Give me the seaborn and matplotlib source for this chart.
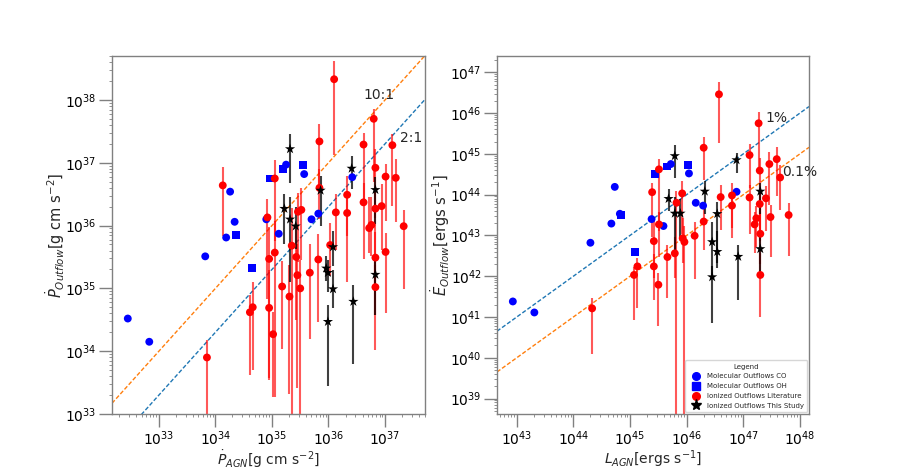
import numpy as np
import pandas as pd
import matplotlib
matplotlib.use("Agg")
import matplotlib.pyplot as plt
import seaborn as sns
from matplotlib.lines import Line2D

sns.set_style("white")
plt.rcParams['font.family'] = ['DejaVu Sans']

# ---------------- Left panel data (log10 values) ----------------
co_pagn = [32.45, 32.83, 33.82, 34.19, 34.26, 34.34, 34.90, 35.12, 35.25, 35.57, 35.70, 35.82, 36.42]
co_pout = [34.52, 34.15, 35.51, 35.81, 36.54, 36.06, 36.10, 35.87, 36.97, 36.82, 36.10, 36.19, 36.77]
oh_pagn = [34.36, 34.65, 34.97, 35.19, 35.55]
oh_pout = [35.85, 35.32, 36.75, 36.90, 36.96]
lit_pagn = [34.13, 33.85, 34.61, 34.66, 34.92, 34.95, 34.95, 35.02, 35.05, 35.05, 35.18, 35.31, 35.35, 35.43,
            35.45, 35.46, 35.50, 35.52, 35.67, 35.82, 35.84, 35.84, 36.03, 36.10, 36.13, 36.33, 36.33, 36.62,
            36.62, 36.72, 36.76, 36.80, 36.83, 36.83, 36.83, 36.83, 36.94, 37.01, 37.01, 37.13, 37.19, 37.33]
lit_pout = [36.64, 33.90, 34.62, 34.70, 36.13, 35.47, 34.69, 34.27, 36.75, 35.57, 35.03, 34.87, 35.68, 35.50,
            35.21, 36.22, 35.00, 36.25, 35.25, 35.46, 37.34, 36.60, 35.69, 38.33, 36.21, 36.49, 36.20, 37.29,
            36.37, 35.96, 36.01, 37.70, 36.92, 36.27, 35.49, 35.02, 36.31, 36.78, 35.58, 37.28, 36.76, 35.99]
lit_pout_up = [0.29, 0.28, 0.28, 0.40, 0.30, 0.50, 0.60, 0.35, 0.30, 0.50, 0.40, 0.50, 0.60, 0.45,
               0.50, 0.30, 0.45, 0.35, 0.45, 0.40, 0.28, 0.30, 0.35, 0.29, 0.30, 0.30, 0.30, 0.19,
               0.30, 0.50, 0.45, 0.15, 0.30, 0.30, 0.40, 0.35, 0.35, 0.20, 0.30, 0.18, 0.30, 0.25]
lit_pout_dn = [0.80, 1.50, 1.00, 1.00, 1.30, 1.90, 1.15, 1.00, 1.00, 2.30, 1.00, 1.55, 2.80, 1.00,
               1.80, 0.80, 2.20, 0.80, 1.05, 1.00, 0.75, 0.50, 0.50, 1.20, 0.60, 0.65, 1.10, 0.96,
               0.90, 0.40, 0.50, 1.00, 0.80, 1.20, 1.47, 0.45, 0.70, 0.70, 0.97, 0.97, 0.70, 1.00]
new_pagn = [35.32, 35.22, 35.32, 35.42, 35.86, 36.41, 36.83, 36.08, 35.96, 35.99, 36.08, 35.99, 36.44, 36.83]
new_pout = [37.22, 36.27, 36.10, 35.99, 36.56, 36.91, 36.57, 35.66, 35.32, 35.25, 34.99, 34.47, 34.79, 35.22]
new_pout_up = [0.24, 0.23, 0.35, 0.30, 0.23, 0.19, 0.21, 0.25, 0.19, 0.20, 0.31, 0.27, 0.27, 0.24]
new_pout_dn = [0.54, 0.57, 1.00, 0.37, 0.57, 0.33, 0.55, 0.30, 0.20, 0.30, 0.30, 1.03, 1.00, 0.64]

# ---------------- Right panel data (log10 values) ----------------
co_lagn = [42.93, 43.31, 44.30, 44.67, 44.73, 44.82, 45.38, 45.59, 45.72, 46.04, 46.16, 46.29, 46.88]
co_eout = [41.38, 41.11, 42.82, 43.29, 44.19, 43.53, 43.40, 43.23, 44.75, 44.52, 43.80, 43.73, 44.07]
oh_lagn = [44.84, 45.09, 45.44, 45.65, 46.03]
oh_eout = [43.49, 42.60, 44.51, 44.69, 44.72]
lit_lagn = [44.33, 45.07, 45.13, 45.39, 45.42, 45.42, 45.50, 45.51, 45.51, 45.66, 45.79, 45.82, 45.92, 45.93,
            45.96, 46.14, 46.30, 46.30, 46.57, 46.60, 46.80, 46.80, 47.11, 47.11, 47.20, 47.23, 47.27, 47.29,
            47.29, 47.30, 47.30, 47.40, 47.46, 47.48, 47.59, 47.65, 47.80]
lit_eout = [41.21, 42.03, 42.24, 44.06, 42.86, 42.24, 41.79, 44.62, 43.27, 42.47, 42.56, 43.80, 44.03, 42.93,
            42.84, 42.99, 45.15, 43.34, 46.46, 43.94, 43.98, 43.73, 44.97, 43.93, 43.27, 43.42, 45.75, 44.59,
            43.77, 43.04, 42.03, 43.91, 44.75, 43.45, 44.87, 44.42, 43.50]
lit_eout_up = [0.26, 0.20, 0.20, 0.22, 0.60, 0.30, 0.30, 0.25, 0.30, 0.30, 0.40, 0.30, 0.30, 0.50,
               0.40, 0.35, 0.27, 0.30, 0.30, 0.30, 0.30, 0.30, 0.28, 0.30, 0.30, 0.30, 0.28, 0.30,
               0.30, 0.60, 0.53, 0.30, 0.30, 0.30, 0.30, 0.30, 0.30]
lit_eout_dn = [1.13, 1.10, 1.03, 1.10, 0.90, 0.82, 1.00, 1.50, 0.80, 1.00, 0.60, 5.50, 1.00, 0.60,
               4.50, 1.07, 0.80, 0.70, 1.20, 0.80, 0.80, 0.80, 0.80, 0.90, 0.70, 0.70, 1.20, 1.50,
               0.90, 0.73, 1.02, 0.80, 1.00, 0.98, 0.90, 0.80, 1.00]
new_lagn = [45.79, 46.88, 45.68, 45.79, 45.89, 46.32, 46.54, 47.30, 46.45, 46.54, 46.45, 46.91, 47.30]
new_eout = [44.95, 44.85, 43.90, 43.54, 43.54, 44.08, 43.53, 44.08, 42.84, 42.60, 41.98, 42.48, 42.67]
new_eout_up = [0.27, 0.16, 0.25, 0.40, 0.35, 0.26, 0.30, 0.20, 0.50, 0.50, 0.26, 0.29, 0.40]
new_eout_dn = [0.55, 0.33, 0.30, 0.97, 0.64, 0.55, 1.20, 0.55, 0.80, 0.40, 1.12, 1.06, 0.72]

labels = ["Molecular Outflows CO", "Molecular Outflows OH",
          "Ionized Outflows Literature", "Ionized Outflows This Study"]


def lin(a):
    return 10.0 ** np.asarray(a, dtype=float)


def yerr(logy, up, dn):
    ly = np.asarray(logy, dtype=float)
    y = 10.0 ** ly
    return [y - 10.0 ** (ly - np.asarray(dn)), 10.0 ** (ly + np.asarray(up)) - y]


def make_df(xs, ys, group):
    return pd.DataFrame({"x": lin(xs), "y": lin(ys), "group": group})


def draw_panel(ax, cox, coy, ohx, ohy, litx, lity, litu, litd, newx, newy, newu, newd):
    ax.errorbar(lin(litx), lin(lity), yerr=yerr(lity, litu, litd), fmt='none',
                ecolor='red', alpha=0.65, elinewidth=1.5, zorder=2)
    ax.errorbar(lin(newx), lin(newy), yerr=yerr(newy, newu, newd), fmt='none',
                ecolor='black', alpha=0.75, elinewidth=1.5, zorder=2)
    df = pd.concat([make_df(cox, coy, labels[0]), make_df(ohx, ohy, labels[1]),
                    make_df(litx, lity, labels[2]), make_df(newx, newy, labels[3])])
    sns.scatterplot(data=df, x="x", y="y", hue="group", style="group",
                    palette={labels[0]: "blue", labels[1]: "blue", labels[2]: "red", labels[3]: "black"},
                    markers={labels[0]: "o", labels[1]: "s", labels[2]: "o", labels[3]: "*"},
                    size="group", sizes={labels[0]: 32, labels[1]: 32, labels[2]: 32, labels[3]: 60},
                    edgecolor='none', linewidth=0, ax=ax, legend=False, zorder=3)
    ax.set_xscale('log')
    ax.set_yscale('log')


fig = plt.figure(figsize=(9, 4.67), dpi=100)
ax1 = fig.add_axes([0.1244, 0.1135, 0.348, 0.7666])
ax2 = fig.add_axes([0.5522, 0.1135, 0.3467, 0.7666])

draw_panel(ax1, co_pagn, co_pout, oh_pagn, oh_pout, lit_pagn, lit_pout, lit_pout_up, lit_pout_dn,
           new_pagn, new_pout, new_pout_up, new_pout_dn)
draw_panel(ax2, co_lagn, co_eout, oh_lagn, oh_eout, lit_lagn, lit_eout, lit_eout_up, lit_eout_dn,
           new_lagn, new_eout, new_eout_up, new_eout_dn)

# Left limits and ratio lines
ax1.set_xlim(10.0 ** 32.17, 10.0 ** 37.71)
ax1.set_ylim(10.0 ** 33, 10.0 ** 38.70)
xl = np.logspace(32.17, 37.71, 50)
ax1.plot(xl, 10 * xl, ls='--', color='#ff7f0e', lw=1, dashes=(3, 1.5), zorder=1)
ax1.plot(xl, 2 * xl, ls='--', color='#1f77b4', lw=1, dashes=(3, 1.5), zorder=1)
ax1.text(10.0 ** 36.90, 10.0 ** 38.08, "10:1", fontsize=10, ha='center', va='center')
ax1.text(10.0 ** 37.46, 10.0 ** 37.40, "2:1", fontsize=10, ha='center', va='center')
ax1.set_xlabel(r"$\dot{P}_{AGN}$[g cm s$^{-2}$]", fontsize=10, labelpad=0.5)
ax1.set_ylabel(r"$\dot{P}_{Outflow}$[g cm s$^{-2}$]", fontsize=10.5, labelpad=-1.5)

# Right limits and efficiency lines
ax2.set_xlim(10.0 ** 42.65, 10.0 ** 48.16)
ax2.set_ylim(10.0 ** 38.62, 10.0 ** 47.40)
xr = np.logspace(42.65, 48.16, 50)
ax2.plot(xr, 0.01 * xr, ls='--', color='#1f77b4', lw=1, dashes=(3, 1.5), zorder=1)
ax2.plot(xr, 0.001 * xr, ls='--', color='#ff7f0e', lw=1, dashes=(3, 1.5), zorder=1)
ax2.text(10.0 ** 47.58, 10.0 ** 45.89, "1%", fontsize=10, ha='center', va='center')
ax2.text(10.0 ** 48.00, 10.0 ** 44.56, "0.1%", fontsize=10, ha='center', va='center', clip_on=False)
ax2.set_xlabel(r"$L_{AGN}$[ergs s$^{-1}$]", fontsize=10, labelpad=0.5)
ax2.set_ylabel(r"$\dot{E}_{Outflow}$[ergs s$^{-1}$]", fontsize=10.5, labelpad=-1.5)

for ax in (ax1, ax2):
    for sp in ax.spines.values():
        sp.set_color('#808080')
        sp.set_linewidth(1)
    ax.tick_params(which='major', direction='out', length=9.5, width=1, color='#808080', pad=1.5,
                   labelsize=10, labelcolor='black', left=True, bottom=True)
    ax.tick_params(which='minor', direction='out', length=2, width=0.6, color='#808080',
                   left=True, bottom=True)
    ax.yaxis.set_major_locator(matplotlib.ticker.LogLocator(base=10, numticks=20))
    ax.xaxis.set_major_locator(matplotlib.ticker.LogLocator(base=10, numticks=20))
    ax.yaxis.set_minor_locator(matplotlib.ticker.LogLocator(base=10, subs=np.arange(2, 10), numticks=20))
    ax.xaxis.set_minor_locator(matplotlib.ticker.LogLocator(base=10, subs=np.arange(2, 10), numticks=20))

handles = [Line2D([], [], ls='none', marker='o', color='blue', markersize=5.5),
           Line2D([], [], ls='none', marker='s', color='blue', markersize=5.5),
           Line2D([], [], ls='none', marker='o', color='red', markersize=5.5),
           Line2D([], [], ls='none', marker='*', color='black', markersize=8)]
leg = ax2.legend(handles, labels, title="Legend", loc='lower right', fontsize=5,
                 title_fontsize=5, frameon=True, borderaxespad=0.25, handletextpad=0.6,
                 labelspacing=0.55, borderpad=0.5)
leg.get_frame().set_edgecolor('#cccccc')

fig.savefig("out.png", dpi=100)
